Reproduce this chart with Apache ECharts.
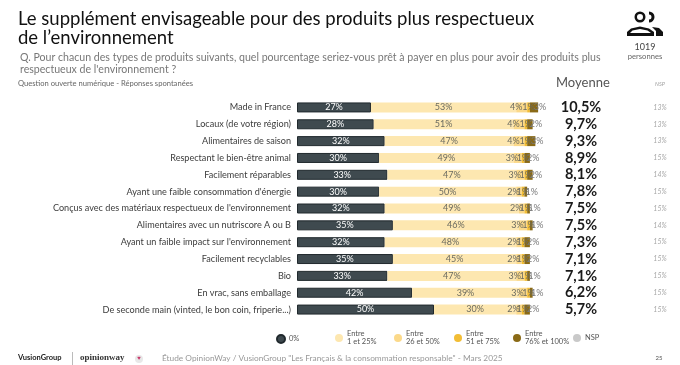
<!DOCTYPE html>
<html>
<head>
<meta charset="utf-8">
<style>
  html, body { margin: 0; padding: 0; background: #fff; }
  #chart { width: 680px; height: 365px; }
</style>
<script src="https://cdn.jsdelivr.net/npm/echarts@6/dist/echarts.min.js"></script>
</head>
<body>
<div id="chart"></div>
<script>
  const categories = [
    'Made in France',
    'Locaux (de votre région)',
    'Alimentaires de saison',
    'Respectant le bien-être animal',
    'Facilement réparables',
    "Ayant une faible consommation d'énergie",
    "Conçus avec des matériaux respectueux de l'environnement",
    'Alimentaires avec un nutriscore A ou B',
    "Ayant un faible impact sur l'environnement",
    'Facilement recyclables',
    'Bio',
    'En vrac, sans emballage',
    'De seconde main (vinted, le bon coin, friperie...)'
  ]
  const zero = [27, 28, 32, 30, 33, 30, 32, 35, 32, 35, 33, 42, 50]
  const upTo25 = [53, 51, 47, 49, 47, 50, 49, 46, 48, 45, 47, 39, 30]
  const upTo50 = [4, 4, 4, 3, 3, 2, 2, 3, 2, 2, 3, 3, 2]
  const upTo75 = [1, 1, 1, 1, 1, 1, 1, 1, 1, 1, 1, 1, 1]
  const upTo100 = [3, 2, 3, 2, 2, 1, 1, 1, 2, 2, 1, 1, 2]
  const moyenne = ['10,5%', '9,7%', '9,3%', '8,9%', '8,1%', '7,8%', '7,5%', '7,5%', '7,3%', '7,1%', '7,1%', '6,2%', '5,7%']
  const nsp = ['13%', '13%', '13%', '15%', '14%', '15%', '15%', '14%', '15%', '15%', '15%', '15%', '15%']

  const FONT = 'Lato, "Open Sans", sans-serif'
  const chart = echarts.init(document.getElementById('chart'))

  function barSeries(name, data, color, labelColor, offsetX, border) {
    return {
      name: name,
      type: 'bar',
      stack: 'total',
      barWidth: 10,
      data: data,
      itemStyle: { color: color, borderColor: border || color, borderWidth: border ? 1 : 0 },
      label: {
        show: true,
        position: 'inside',
        formatter: '{c}%',
        color: labelColor,
        fontFamily: FONT,
        fontSize: 9
      },
      labelLayout: { dx: offsetX, hideOverlap: false }
    }
  }

  function legendItem(name, left, top) {
    return {
      data: [name],
      left: left,
      top: top,
      orient: 'horizontal',
      padding: 0,
      itemWidth: 8,
      itemHeight: 8,
      itemGap: 0,
      icon: 'circle',
      selectedMode: false,
      textStyle: { color: '#555', fontFamily: FONT, fontSize: 7.5, lineHeight: 8, padding: [0, 0, 0, -1] }
    }
  }

  const headText = (text, x, y, size, color, extra) => ({
    type: 'text',
    x: x,
    y: y,
    style: Object.assign({ text: text, fill: color, font: size + 'px ' + FONT, textVerticalAlign: 'middle' }, extra || {})
  })

  chart.setOption({
    animation: false,
    backgroundColor: '#fff',
    grid: { left: 297, right: 109, top: 99, bottom: 47, containLabel: false },
    xAxis: { type: 'value', min: 0, max: 100, show: false },
    yAxis: [
      {
        type: 'category',
        inverse: true,
        data: categories,
        axisLine: { show: false },
        axisTick: { show: false },
        axisLabel: { interval: 0, color: '#3c3c3c', fontFamily: FONT, fontSize: 9.1, margin: 6 }
      },
      {
        type: 'category',
        inverse: true,
        position: 'right',
        offset: 10,
        data: moyenne,
        axisLine: { show: false },
        axisTick: { show: false },
        axisLabel: { interval: 0, color: '#1a1a1a', fontFamily: FONT, fontSize: 14.5, fontWeight: 'bold', margin: 0, align: 'center' }
      },
      {
        type: 'category',
        inverse: true,
        position: 'right',
        offset: 89,
        data: nsp,
        axisLine: { show: false },
        axisTick: { show: false },
        axisLabel: { interval: 0, color: '#a8a8a8', fontFamily: FONT, fontSize: 7, fontStyle: 'italic', margin: 0, align: 'center' }
      }
    ],
    legend: [
      legendItem('0%', 276, 334),
      legendItem('Entre\n1 et 25%', 335, 330),
      legendItem('Entre\n26 et 50%', 394, 330),
      legendItem('Entre\n51 et 75%', 454, 330),
      legendItem('Entre\n76% et 100%', 513, 330),
      legendItem('NSP', 573, 334)
    ],
    series: [
      barSeries('0%', zero, '#3f4a4f', '#fff', 0, '#20292d'),
      barSeries('Entre\n1 et 25%', upTo25, '#fde7b0', '#6b6b60', 0),
      barSeries('Entre\n26 et 50%', upTo50, '#fbd98a', '#6b6b60', -5.5),
      barSeries('Entre\n51 et 75%', upTo75, '#f2bd35', '#6b6b60', 0),
      barSeries('Entre\n76% et 100%', upTo100, '#8a6a16', '#7a7a7a', 6),
      { name: 'NSP', type: 'bar', stack: 'total', data: [], itemStyle: { color: '#c9c9c9' } }
    ],
    graphic: [
      headText('Le supplément envisageable pour des produits plus respectueux', 18, 19, 18.5, '#111'),
      headText("de l’environnement", 18, 38, 18.5, '#111'),
      headText('Q. Pour chacun des types de produits suivants, quel pourcentage seriez-vous prêt à payer en plus pour avoir des produits plus', 20, 58, 10.6, '#777'),
      headText("respectueux de l'environnement ?", 20, 70, 10.6, '#777'),
      headText('Question ouverte numérique - Réponses spontanées', 18, 84, 7.6, '#666'),
      headText('Moyenne', 556, 83, 13, '#555'),
      headText('NSP', 660, 84, 5.5, '#a0a0a0', { textAlign: 'center', font: 'italic 5.5px ' + FONT }),
      headText('1019', 645, 47, 9, '#444', { textAlign: 'center' }),
      headText('personnes', 645, 57, 7.6, '#666', { textAlign: 'center' }),
      // people icon
      { type: 'ring', shape: { cx: 640, cy: 17, r: 5.5, r0: 3 }, style: { fill: '#111' } },
      { type: 'sector', shape: { cx: 649, cy: 17, r: 5.5, r0: 2.5, startAngle: -Math.PI / 2, endAngle: Math.PI / 2 }, style: { fill: '#111' } },
      { type: 'polygon', shape: { points: [[627, 36], [627, 32], [631, 28.5], [640, 26.5], [649, 28.5], [654, 32], [654, 36]] }, style: { fill: '#111' } },
      { type: 'polygon', shape: { points: [[630, 33], [632.5, 30.5], [640, 29], [647.5, 30.5], [651, 33]] }, style: { fill: '#fff' } },
      { type: 'polygon', shape: { points: [[652, 27], [659, 28], [663, 32], [663, 36], [656, 36], [656, 31]] }, style: { fill: '#111' } },
      // footer
      headText('VusionGroup', 18, 358, 7.5, '#222', { font: 'bold 7.5px ' + FONT }),
      { type: 'line', shape: { x1: 72.5, y1: 352, x2: 72.5, y2: 365 }, style: { stroke: '#bbb', lineWidth: 1 } },
      headText('opinionway', 80, 358, 9, '#333', { font: 'bold 9px "Liberation Serif", serif' }),
      { type: 'circle', shape: { cx: 139, cy: 359, r: 4 }, style: { fill: '#e8e8e8' } },
      headText('♥', 139, 358, 6, '#c8366a', { textAlign: 'center' }),
      headText('Étude OpinionWay / VusionGroup "Les Français & la consommation responsable" - Mars 2025', 162, 358, 8.3, '#999'),
      headText('25', 659, 358, 6, '#555', { textAlign: 'center' })
    ]
  })
</script>
</body>
</html>
